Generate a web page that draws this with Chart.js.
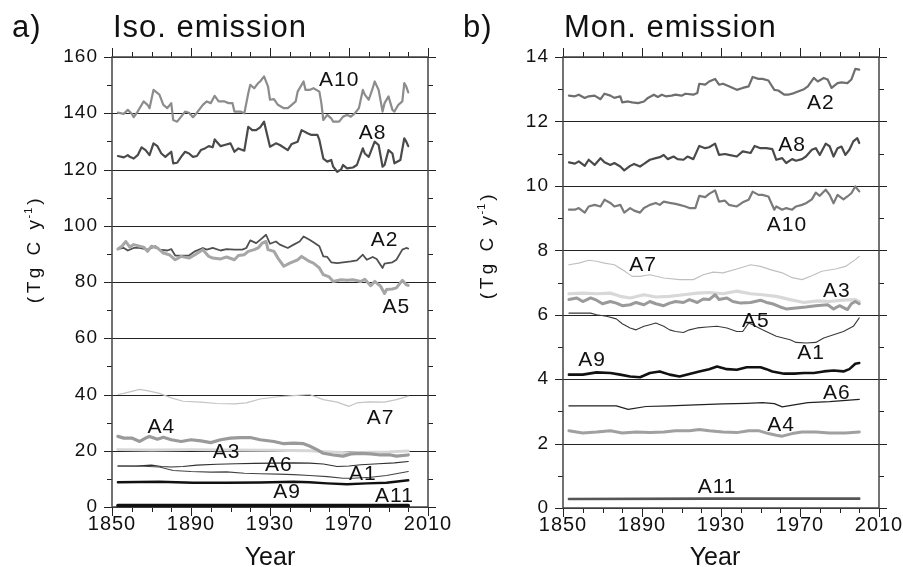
<!DOCTYPE html>
<html>
<head>
<meta charset="utf-8">
<script src="https://cdn.jsdelivr.net/npm/chart.js@4.4.1/dist/chart.umd.min.js"></script>
<style>
  html, body { margin: 0; padding: 0; background: #fff; }
  #wrap { position: relative; width: 903px; height: 567px; overflow: hidden; }
  canvas { position: absolute; top: 0; }
  #isoChart { left: 0; }
  #monChart { left: 451px; }
</style>
</head>
<body>
<div id="wrap">
  <canvas id="isoChart" width="451" height="567"></canvas>
  <canvas id="monChart" width="452" height="567"></canvas>
</div>
<script>
// ---- axes ----
const yearTicks = [1850, 1860, 1870, 1880, 1890, 1900, 1910, 1920, 1930, 1940, 1950, 1960, 1970, 1980, 1990, 2000, 2010];
const yearLabels = [1850, 1890, 1930, 1970, 2010];
const isoTicks = [0, 10, 20, 30, 40, 50, 60, 70, 80, 90, 100, 110, 120, 130, 140, 150, 160];
const isoLabels = [0, 20, 40, 60, 80, 100, 120, 140, 160];
const monTicks = [0, 1, 2, 3, 4, 5, 6, 7, 8, 9, 10, 11, 12, 13, 14];
const monLabels = [0, 2, 4, 6, 8, 10, 12, 14];

// ---- a) isoprene emission, Tg C / yr ----
const isoA10 = [[1853,140.2],[1856,139.8],[1858,141.2],[1860,139.8],[1861,138.6],[1863,140.6],[1866,144.2],[1868,143],[1869,141.8],[1871,148.3],[1874,146.6],[1876,143],[1878,141.8],[1880,143.6],[1881,137.6],[1883,137],[1885,138.8],[1887,140.6],[1889,140.2],[1891,138.6],[1893,140.2],[1896,143],[1898,144.2],[1900,143.6],[1902,146.2],[1904,144.2],[1907,144.2],[1909,143.6],[1911,143.6],[1912,140.6],[1915,140.6],[1917,140],[1919,147.1],[1920,150.1],[1922,148.9],[1924,150.7],[1925,151.3],[1927,153.1],[1929,149.5],[1930,144.8],[1932,145],[1934,143],[1937,141.8],[1939,141.8],[1941,143],[1943,144.2],[1944,147.7],[1947,151.3],[1948,148.3],[1950,148.3],[1952,148.9],[1955,147.7],[1956,143.6],[1957,137.6],[1959,139.4],[1961,138.2],[1962,137],[1965,137],[1967,138.8],[1969,139.4],[1971,138.8],[1973,140],[1975,141.8],[1977,148.3],[1978,146.6],[1980,144.8],[1982,148.9],[1983,151.3],[1985,148.3],[1987,140.6],[1988,143.6],[1990,146],[1992,141.2],[1993,140.6],[1995,143],[1997,144.2],[1998,150.7],[1999,149.5],[2000,147.4]];
const isoA8 = [[1853,124.8],[1856,124.3],[1858,125.1],[1859,124.5],[1861,123.9],[1863,125.1],[1865,127.9],[1867,126.9],[1869,125.1],[1871,129.3],[1873,128.3],[1875,125.7],[1877,124.5],[1878,125.1],[1880,126.3],[1881,122.2],[1883,122.4],[1885,124.5],[1887,126.3],[1889,125.7],[1891,124.5],[1893,124.8],[1895,126.9],[1897,127.5],[1899,128.3],[1901,127.9],[1902,130.7],[1905,128.3],[1907,128.7],[1910,129.3],[1912,126.3],[1914,127.5],[1917,126.7],[1919,135.2],[1921,134],[1923,134],[1925,135],[1927,137],[1928,134],[1930,128.1],[1933,129.3],[1935,128.7],[1939,126.9],[1941,129.1],[1944,129.9],[1946,134],[1949,132.9],[1951,132.3],[1954,132.3],[1955,130.5],[1957,123.9],[1959,122.8],[1961,123.4],[1962,121],[1964,119.2],[1966,120],[1967,121.6],[1969,120.4],[1972,120.7],[1974,121.6],[1977,127.5],[1978,125.7],[1980,124.5],[1983,129.9],[1985,128.7],[1987,121],[1988,121.6],[1990,126.9],[1992,125.7],[1993,122.2],[1996,123.4],[1998,131.1],[1999,129.9],[2000,128.3]];
const isoA2 = [[1853,91.8],[1856,92.1],[1858,91.2],[1861,92.1],[1864,92.1],[1868,91.5],[1872,92.7],[1874,91.5],[1878,91.2],[1880,91.7],[1882,89.4],[1885,89.4],[1889,89.4],[1892,90.9],[1896,92.1],[1898,91.5],[1901,92.1],[1905,91.2],[1908,91.7],[1912,91.5],[1916,91.5],[1918,92.1],[1920,94.8],[1923,93.8],[1925,95],[1928,96.8],[1930,93.6],[1933,94.4],[1935,93.3],[1939,92.1],[1942,93.3],[1945,94.4],[1947,96.2],[1950,95],[1952,94.1],[1955,92.7],[1957,89.1],[1959,88.9],[1961,87],[1964,86.7],[1967,87],[1971,87.3],[1974,87.7],[1977,89.7],[1979,87.9],[1982,88.9],[1984,88.2],[1987,85],[1988,86.5],[1992,87],[1994,87.9],[1997,91.5],[1999,92.1],[2000,91.9]];
const isoA5 = [[1853,91.7],[1855,92.7],[1857,94.4],[1859,92.4],[1861,93.3],[1864,92.7],[1866,92.4],[1868,90.9],[1870,92.7],[1873,92.1],[1876,90.3],[1879,89.7],[1882,87.9],[1885,89.1],[1889,88.5],[1892,89.7],[1896,91.5],[1899,89.1],[1901,88.5],[1905,88.2],[1908,88.9],[1912,87.9],[1914,89.4],[1917,89.7],[1919,90.9],[1922,91.5],[1924,92.1],[1926,93.8],[1928,94.4],[1929,91.5],[1932,90.9],[1934,88.5],[1937,85.6],[1940,86.7],[1944,87.9],[1946,89.1],[1950,87.3],[1952,86.7],[1955,85],[1957,82.6],[1960,81.8],[1962,80.2],[1966,80.8],[1969,80.6],[1972,80.8],[1976,80.2],[1978,81],[1981,78.7],[1983,80.2],[1986,78.5],[1988,75.9],[1989,77.3],[1992,77.5],[1994,77.9],[1997,80.6],[1999,79],[2000,78.8]];
const isoA7 = [[1853,40],[1856,40.4],[1864,41.8],[1869,41.2],[1874,40.4],[1880,38.8],[1886,37.6],[1895,37.3],[1903,36.8],[1912,36.7],[1918,37],[1925,38.4],[1934,39.2],[1942,39.6],[1950,40],[1957,38.2],[1964,37.3],[1970,35.8],[1974,37],[1980,37.4],[1988,37.3],[1994,38.2],[2000,39.4]];
const isoA4 = [[1853,25.1],[1856,24.5],[1860,24.5],[1864,23.3],[1867,24.5],[1869,25.1],[1873,24.1],[1876,24.8],[1880,23.9],[1885,23.3],[1890,23.9],[1895,23.5],[1900,22.9],[1905,23.9],[1910,24.5],[1915,24.7],[1920,24.7],[1925,23.9],[1932,23.3],[1937,22.5],[1942,22.7],[1947,22.5],[1950,21.7],[1954,20.3],[1957,19.1],[1962,18.5],[1967,18.1],[1971,18.9],[1976,19.1],[1981,18.9],[1986,18.5],[1991,18.5],[1994,18.1],[2000,18.5]];
const isoA3 = [[1853,20.4],[1870,20.3],[1890,20.4],[1910,20.3],[1930,20.2],[1950,20],[1960,19.6],[1970,19.3],[1980,19.5],[1990,19.6],[2000,19.9]];
const isoA6 = [[1853,14.6],[1862,14.6],[1870,14.9],[1875,14.4],[1880,14.2],[1886,14.4],[1893,14.9],[1903,15.2],[1913,15.4],[1922,15.5],[1932,15.6],[1942,15.7],[1950,15.6],[1957,15.3],[1964,14.4],[1970,14.6],[1976,15],[1985,15.4],[1993,15.7],[2000,16.2]];
const isoA1 = [[1853,14.6],[1866,14.5],[1874,14.2],[1881,13],[1890,12.6],[1900,12.4],[1908,12.5],[1917,12],[1925,11.8],[1934,11.7],[1942,11.5],[1950,11.2],[1959,10.8],[1967,10.2],[1972,10.2],[1981,10.6],[1989,11.2],[2000,12.6]];
const isoA9 = [[1853,8.8],[1874,9],[1891,8.6],[1908,8.6],[1925,8.7],[1942,9],[1950,8.8],[1959,8.4],[1969,8.1],[1979,8.4],[1989,8.6],[2000,9.5]];
const isoA11 = [[1853,0.5],[1925,0.5],[2000,0.5]];

// ---- b) monoterpene emission, Tg C / yr ----
const monA2 = [[1853,12.8],[1856,12.78],[1858,12.83],[1861,12.73],[1863,12.78],[1866,12.8],[1869,12.69],[1871,12.86],[1874,12.8],[1876,12.73],[1879,12.78],[1880,12.59],[1883,12.62],[1885,12.59],[1888,12.57],[1891,12.62],[1893,12.73],[1896,12.83],[1898,12.76],[1900,12.83],[1902,12.78],[1905,12.8],[1907,12.83],[1910,12.8],[1912,12.86],[1916,12.83],[1918,12.88],[1919,13.17],[1922,13.14],[1924,13.24],[1927,13.32],[1929,13.14],[1931,13.17],[1934,13.09],[1938,12.98],[1941,13.04],[1944,13.09],[1946,13.38],[1949,13.32],[1951,13.32],[1954,13.27],[1957,12.98],[1959,12.96],[1962,12.83],[1964,12.83],[1967,12.88],[1969,12.93],[1972,13],[1974,13.09],[1977,13.35],[1979,13.24],[1982,13.35],[1984,13.3],[1986,13.04],[1989,13.19],[1991,13.21],[1994,13.19],[1996,13.3],[1998,13.63],[2000,13.61]];
const monA8 = [[1853,10.73],[1856,10.69],[1858,10.76],[1861,10.62],[1863,10.81],[1866,10.65],[1869,10.86],[1871,10.73],[1874,10.65],[1876,10.71],[1879,10.6],[1881,10.48],[1884,10.62],[1886,10.68],[1889,10.6],[1891,10.68],[1894,10.81],[1897,10.86],[1899,10.89],[1901,10.96],[1903,10.83],[1906,10.91],[1908,10.83],[1911,10.81],[1913,10.91],[1916,10.83],[1919,11.24],[1922,11.17],[1924,11.2],[1927,11.31],[1929,10.96],[1932,10.99],[1934,10.96],[1938,10.91],[1941,11.07],[1945,11.02],[1947,11.24],[1950,11.17],[1953,11.17],[1956,11.14],[1958,10.81],[1961,10.86],[1963,10.71],[1966,10.83],[1968,10.78],[1971,10.83],[1973,10.91],[1976,11.12],[1978,11.17],[1980,10.96],[1983,11.31],[1985,11.23],[1987,10.91],[1989,11.17],[1991,11.22],[1993,10.96],[1995,11.12],[1997,11.38],[1999,11.48],[2000,11.33]];
const monA10 = [[1853,9.26],[1856,9.26],[1858,9.31],[1861,9.17],[1863,9.36],[1866,9.41],[1869,9.36],[1871,9.57],[1874,9.47],[1876,9.36],[1879,9.41],[1881,9.17],[1884,9.31],[1886,9.23],[1889,9.17],[1891,9.31],[1894,9.41],[1897,9.47],[1899,9.41],[1901,9.51],[1904,9.47],[1907,9.44],[1909,9.41],[1912,9.36],[1914,9.31],[1917,9.31],[1919,9.69],[1922,9.65],[1924,9.75],[1927,9.86],[1929,9.51],[1932,9.54],[1934,9.41],[1938,9.36],[1941,9.49],[1944,9.57],[1946,9.82],[1949,9.72],[1951,9.72],[1954,9.67],[1957,9.26],[1958,9.36],[1961,9.26],[1963,9.31],[1966,9.26],[1968,9.36],[1971,9.41],[1973,9.46],[1976,9.58],[1978,9.79],[1980,9.69],[1983,9.88],[1985,9.72],[1987,9.46],[1989,9.72],[1992,9.58],[1994,9.67],[1996,9.77],[1998,9.98],[2000,9.83]];
const monA7 = [[1853,7.55],[1858,7.6],[1863,7.69],[1867,7.66],[1871,7.6],[1876,7.55],[1880,7.4],[1885,7.19],[1889,7.19],[1894,7.24],[1901,7.14],[1909,7.09],[1916,7.09],[1921,7.24],[1926,7.32],[1931,7.3],[1938,7.42],[1945,7.55],[1950,7.5],[1955,7.4],[1961,7.3],[1966,7.15],[1971,7.09],[1976,7.21],[1981,7.35],[1988,7.42],[1993,7.5],[1998,7.71],[2000,7.81]];
const monA3 = [[1853,6.65],[1860,6.67],[1867,6.65],[1874,6.67],[1879,6.57],[1884,6.52],[1891,6.62],[1897,6.55],[1904,6.57],[1911,6.62],[1918,6.67],[1924,6.69],[1931,6.65],[1938,6.73],[1945,6.65],[1951,6.62],[1958,6.57],[1965,6.47],[1972,6.38],[1979,6.43],[1985,6.41],[1992,6.45],[1998,6.47],[2000,6.41]];
const monA5 = [[1853,6.47],[1857,6.52],[1860,6.41],[1864,6.52],[1867,6.45],[1870,6.34],[1874,6.41],[1877,6.36],[1880,6.28],[1884,6.31],[1887,6.38],[1891,6.31],[1894,6.41],[1897,6.34],[1901,6.28],[1904,6.36],[1907,6.41],[1911,6.38],[1914,6.47],[1918,6.38],[1921,6.49],[1924,6.47],[1927,6.62],[1929,6.47],[1933,6.52],[1936,6.41],[1940,6.36],[1945,6.38],[1950,6.45],[1953,6.38],[1956,6.34],[1960,6.24],[1963,6.18],[1968,6.21],[1973,6.24],[1978,6.28],[1984,6.31],[1987,6.18],[1990,6.28],[1994,6.16],[1996,6.34],[1998,6.41],[2000,6.34]];
const monA1 = [[1853,6.05],[1858,6.05],[1864,6.05],[1867,6],[1872,5.95],[1877,5.87],[1880,5.72],[1884,5.59],[1887,5.53],[1891,5.64],[1894,5.69],[1897,5.74],[1901,5.64],[1904,5.53],[1907,5.48],[1911,5.45],[1914,5.53],[1918,5.59],[1923,5.62],[1928,5.64],[1933,5.59],[1938,5.48],[1941,5.48],[1944,5.74],[1946,5.69],[1951,5.53],[1958,5.33],[1965,5.22],[1968,5.14],[1973,5.12],[1978,5.14],[1982,5.28],[1987,5.38],[1992,5.48],[1997,5.64],[2000,5.9]];
const monA9 = [[1853,4.14],[1860,4.14],[1867,4.21],[1874,4.19],[1879,4.14],[1884,4.08],[1889,4.06],[1894,4.19],[1899,4.24],[1904,4.14],[1909,4.08],[1914,4.16],[1919,4.24],[1924,4.31],[1928,4.39],[1933,4.31],[1938,4.29],[1943,4.37],[1950,4.37],[1953,4.31],[1956,4.24],[1962,4.17],[1967,4.17],[1972,4.19],[1977,4.19],[1982,4.24],[1987,4.27],[1992,4.24],[1995,4.31],[1998,4.48],[2000,4.5]];
const monA6 = [[1853,3.17],[1867,3.17],[1877,3.17],[1883,3.06],[1892,3.15],[1904,3.17],[1917,3.2],[1931,3.23],[1943,3.25],[1951,3.27],[1957,3.24],[1961,3.14],[1967,3.2],[1974,3.27],[1985,3.3],[1995,3.35],[2000,3.37]];
const monA4 = [[1853,2.4],[1860,2.33],[1867,2.36],[1874,2.4],[1880,2.33],[1887,2.36],[1894,2.34],[1901,2.36],[1907,2.4],[1914,2.4],[1919,2.44],[1924,2.4],[1931,2.36],[1938,2.34],[1944,2.4],[1949,2.4],[1954,2.31],[1958,2.26],[1961,2.23],[1966,2.31],[1971,2.36],[1978,2.36],[1985,2.33],[1993,2.33],[2000,2.36]];
const monA11 = [[1853,0.28],[1925,0.29],[2000,0.29]];

// series names and where their tags sit (year, value)
const isoTags = [['A10', 1965, 151.8], ['A8', 1982, 133], ['A2', 1988, 94.9], ['A5', 1994, 71], ['A7', 1986, 31.6], ['A4', 1875, 28.4], ['A3', 1908, 19.6], ['A6', 1934.5, 14.9], ['A1', 1977, 11.7], ['A9', 1938.6, 5.3], ['A11', 1993, 3.8]];
const monTags = [['A2', 1980.6, 12.57], ['A8', 1966, 11.27], ['A10', 1963.4, 8.78], ['A7', 1890.5, 7.54], ['A3', 1988.7, 6.73], ['A5', 1947.7, 5.8], ['A1', 1975.6, 4.8], ['A9', 1864.7, 4.59], ['A6', 1988.7, 3.57], ['A4', 1960.4, 2.57], ['A11', 1928, 0.65]];

const FONT = '"Liberation Sans", Arial, sans-serif';

function line(points, color, width) {
  return {
    data: points.map(([x, y]) => ({ x, y })),
    borderColor: color,
    borderWidth: width,
    pointRadius: 0,
    tension: 0,
    fill: false,
    borderJoinStyle: 'round',
    borderCapStyle: 'round'
  };
}

function text(ctx, str, x, y, size, align = 'left', baseline = 'alphabetic', spacing = 0) {
  ctx.save();
  ctx.font = `${size}px ${FONT}`;
  ctx.letterSpacing = spacing + 'px';
  ctx.fillStyle = '#111';
  ctx.textAlign = align;
  ctx.textBaseline = baseline;
  ctx.fillText(str, x, y);
  ctx.restore();
}

// frame, ticks, rules and all the lettering of one panel
function panelPlugin(cfg) {
  return {
    id: 'panel',
    beforeDatasetsDraw(chart) {
      const { ctx, chartArea: a, scales: { x, y } } = chart;
      ctx.save();
      ctx.strokeStyle = '#222';
      ctx.lineWidth = 1;
      cfg.yTicks.forEach(v => {
        const py = Math.round(y.getPixelForValue(v)) + 0.5;
        ctx.beginPath();
        if (cfg.yLabels.includes(v)) {
          ctx.moveTo(a.left - 8, py); ctx.lineTo(a.right + 8, py);
        } else {
          ctx.moveTo(a.left - 5, py); ctx.lineTo(a.left, py);
          ctx.moveTo(a.right, py); ctx.lineTo(a.right + 5, py);
        }
        ctx.stroke();
      });
      yearTicks.forEach(v => {
        const px = Math.round(x.getPixelForValue(v)) + 0.5;
        const len = yearLabels.includes(v) ? 9 : 5;
        ctx.beginPath();
        ctx.moveTo(px, a.bottom); ctx.lineTo(px, a.bottom + len);
        ctx.moveTo(px, a.top); ctx.lineTo(px, a.top - len);
        ctx.stroke();
      });
      ctx.strokeStyle = '#444';
      ctx.lineWidth = 1.5;
      ctx.strokeRect(a.left, a.top, a.right - a.left, a.bottom - a.top);
      ctx.restore();
    },
    afterDraw(chart) {
      const { ctx, chartArea: a, scales: { x, y } } = chart;
      yearLabels.forEach(v => text(ctx, String(v), x.getPixelForValue(v), a.bottom + 23, 20, 'center', 'alphabetic', 1));
      cfg.yLabels.forEach(v => text(ctx, String(v), a.left - 14, y.getPixelForValue(v), 19, 'right', 'middle', 1));
      text(ctx, 'Year', cfg.yearX, 565, 25, 'center');
      text(ctx, cfg.letter, 12, 37, 31, 'left', 'alphabetic', 1);
      text(ctx, cfg.title, a.left + 1, 37, 31, 'left', 'alphabetic', 1);
      cfg.tags.forEach(([name, yr, val]) =>
        text(ctx, name, x.getPixelForValue(yr), y.getPixelForValue(val), 21, 'center', 'middle', 1));

      // rotated unit label: (Tg C y^-1)
      ctx.save();
      ctx.translate(cfg.unitX, cfg.unitY);
      ctx.rotate(-Math.PI / 2);
      ctx.fillStyle = '#111';
      ctx.textBaseline = 'alphabetic';
      ctx.letterSpacing = '3.5px';
      ctx.font = `19px ${FONT}`;
      const w1 = ctx.measureText('(Tg C y').width;
      const w3 = ctx.measureText(')').width;
      ctx.font = `11px ${FONT}`;
      ctx.letterSpacing = '1px';
      const w2 = ctx.measureText('-1').width;
      let cx = -(w1 + w2 + w3) / 2;
      ctx.font = `19px ${FONT}`;
      ctx.letterSpacing = '3.5px';
      ctx.fillText('(Tg C y', cx, 0);
      cx += w1;
      ctx.font = `11px ${FONT}`;
      ctx.letterSpacing = '1px';
      ctx.fillText('-1', cx - 2, -8);
      cx += w2;
      ctx.font = `19px ${FONT}`;
      ctx.letterSpacing = '3.5px';
      ctx.fillText(')', cx, 0);
      ctx.restore();
    }
  };
}

function makeChart(id, datasets, yMax, padding, cfg) {
  return new Chart(document.getElementById(id), {
    type: 'line',
    data: { datasets },
    options: {
      responsive: false,
      animation: false,
      events: [],
      layout: { padding },
      plugins: { legend: { display: false }, tooltip: { enabled: false } },
      scales: {
        x: { type: 'linear', min: 1850, max: 2010, display: false },
        y: { type: 'linear', min: 0, max: yMax, display: false }
      }
    },
    plugins: [panelPlugin(cfg)]
  });
}

// first dataset is painted last (on top)
makeChart('isoChart', [
  line(isoA11, '#111111', 3.5),
  line(isoA9, '#111111', 2.4),
  line(isoA1, '#444444', 1.1),
  line(isoA6, '#303030', 1.1),
  line(isoA4, '#9a9a9a', 3.2),
  line(isoA3, '#d6d6d6', 3),
  line(isoA7, '#c4c4c4', 1.2),
  line(isoA5, '#a6a6a6', 3),
  line(isoA2, '#505050', 1.8),
  line(isoA8, '#4a4a4a', 2.2),
  line(isoA10, '#8c8c8c', 2.2)
], 160, { left: 112, top: 57, right: 23, bottom: 60 }, {
  yTicks: isoTicks, yLabels: isoLabels, tags: isoTags,
  letter: 'a)', title: 'Iso. emission', yearX: 270, unitX: 40, unitY: 249
});

makeChart('monChart', [
  line(monA11, '#555555', 2.6),
  line(monA4, '#a0a0a0', 3),
  line(monA6, '#222222', 1.2),
  line(monA9, '#111111', 2.6),
  line(monA1, '#3a3a3a', 1.1),
  line(monA5, '#9a9a9a', 3),
  line(monA3, '#d8d8d8', 3.2),
  line(monA7, '#c0c0c0', 1.2),
  line(monA10, '#7a7a7a', 2.2),
  line(monA8, '#4a4a4a', 2.2),
  line(monA2, '#6e6e6e', 2.2)
], 14, { left: 112, top: 57, right: 24, bottom: 59 }, {
  yTicks: monTicks, yLabels: monLabels, tags: monTags,
  letter: 'b)', title: 'Mon. emission', yearX: 264, unitX: 42, unitY: 245
});
</script>
</body>
</html>
